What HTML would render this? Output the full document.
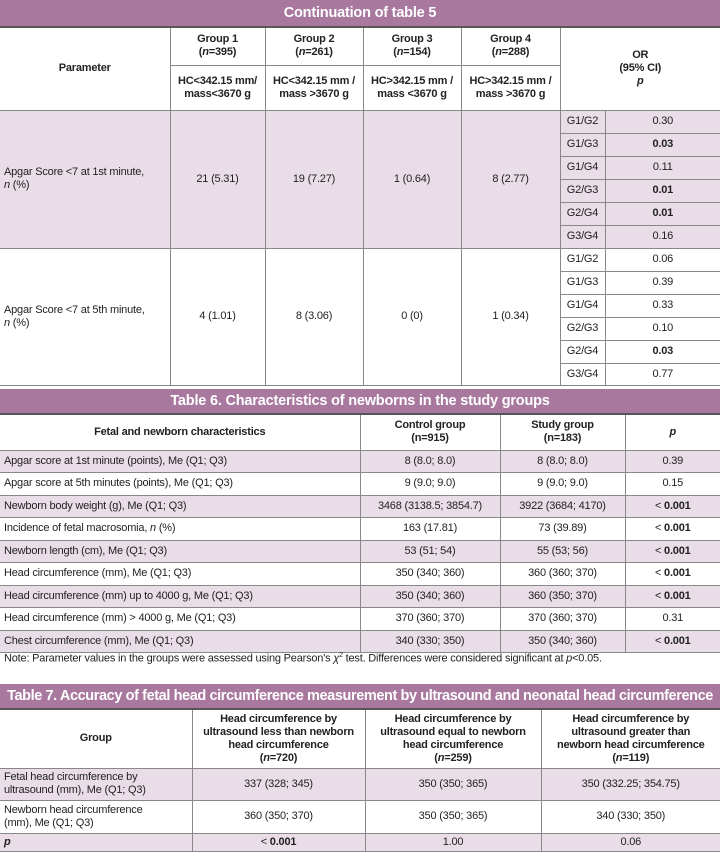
<!DOCTYPE html>
<html><head><meta charset="utf-8"><style>
body{margin:0;width:720px;height:851px;background:#fff;font-family:"Liberation Sans",sans-serif;color:#222;position:relative;overflow:hidden}
.bar{position:absolute;left:0;width:720px;background:#a8789f;color:#fff;font-weight:bold;font-size:14.5px;text-align:center;border-bottom:2px solid #555;box-sizing:border-box;letter-spacing:-0.2px}
table{position:absolute;left:0;width:720px;border-collapse:collapse;table-layout:fixed;font-size:11px;letter-spacing:-0.2px}
td{border:1px solid #888;padding:0 4px;text-align:center;vertical-align:middle;overflow:hidden;line-height:13px}
td.l{text-align:left}
tr.s td,td.s{background:#e9dde8}
.h td{font-weight:bold}
table tr:first-child td{border-top:none}
td:first-child{border-left:none} td:last-child{border-right:none}
b{font-weight:bold}
</style></head><body>

<div class="bar" style="top:0;height:28px;line-height:27px">Continuation of table 5</div>
<table style="top:28px">
<colgroup><col style="width:170px"><col style="width:95px"><col style="width:98px"><col style="width:98px"><col style="width:99px"><col style="width:45px"><col style="width:115px"></colgroup>
<tr class="h" style="height:37px"><td rowspan="2">Parameter</td><td>Group 1<br>(<i>n</i>=395)</td><td>Group 2<br>(<i>n</i>=261)</td><td>Group 3<br>(<i>n</i>=154)</td><td>Group 4<br>(<i>n</i>=288)</td><td colspan="2" rowspan="2">OR<br>(95% CI)<br><i>p</i></td></tr>
<tr class="h" style="height:45px;border-bottom:1.5px solid #444"><td>HC&lt;342.15 mm/<br>mass&lt;3670 g</td><td>HC&lt;342.15 mm /<br>mass &gt;3670 g</td><td>HC&gt;342.15 mm /<br>mass &lt;3670 g</td><td>HC&gt;342.15 mm /<br>mass &gt;3670 g</td></tr>
<tr class="s" style="height:23px"><td class="l" rowspan="6">Apgar Score &lt;7 at 1st minute,<br><i>n</i> (%)</td><td rowspan="6">21 (5.31)</td><td rowspan="6">19 (7.27)</td><td rowspan="6">1 (0.64)</td><td rowspan="6">8 (2.77)</td><td>G1/G2</td><td>0.30</td></tr>
<tr class="s" style="height:23px"><td>G1/G3</td><td><b>0.03</b></td></tr>
<tr class="s" style="height:23px"><td>G1/G4</td><td>0.11</td></tr>
<tr class="s" style="height:23px"><td>G2/G3</td><td><b>0.01</b></td></tr>
<tr class="s" style="height:23px"><td>G2/G4</td><td><b>0.01</b></td></tr>
<tr class="s" style="height:23px"><td>G3/G4</td><td>0.16</td></tr>
<tr style="height:23px"><td class="l" rowspan="6">Apgar Score &lt;7 at 5th minute,<br><i>n</i> (%)</td><td rowspan="6">4 (1.01)</td><td rowspan="6">8 (3.06)</td><td rowspan="6">0 (0)</td><td rowspan="6">1 (0.34)</td><td>G1/G2</td><td>0.06</td></tr>
<tr style="height:23px"><td>G1/G3</td><td>0.39</td></tr>
<tr style="height:23px"><td>G1/G4</td><td>0.33</td></tr>
<tr style="height:23px"><td>G2/G3</td><td>0.10</td></tr>
<tr style="height:23px"><td>G2/G4</td><td><b>0.03</b></td></tr>
<tr style="height:22px;border-bottom:1.5px solid #444"><td>G3/G4</td><td>0.77</td></tr>
</table>

<div class="bar" style="top:389px;height:26px;line-height:25px">Table 6. Characteristics of newborns in the study groups</div>
<table style="top:415px">
<colgroup><col style="width:360px"><col style="width:140px"><col style="width:125px"><col style="width:95px"></colgroup>
<tr class="h" style="height:35px;border-bottom:1.5px solid #444"><td>Fetal and newborn characteristics</td><td>Control group<br>(n=915)</td><td>Study group<br>(n=183)</td><td><i>p</i></td></tr>
<tr class="s" style="height:22.5px"><td class="l">Apgar score at 1st minute (points), Me (Q1; Q3)</td><td>8 (8.0; 8.0)</td><td>8 (8.0; 8.0)</td><td>0.39</td></tr>
<tr style="height:22.5px"><td class="l">Apgar score at 5th minutes (points), Me (Q1; Q3)</td><td>9 (9.0; 9.0)</td><td>9 (9.0; 9.0)</td><td>0.15</td></tr>
<tr class="s" style="height:22.5px"><td class="l">Newborn body weight (g), Me (Q1; Q3)</td><td>3468 (3138.5; 3854.7)</td><td>3922 (3684; 4170)</td><td>&lt; <b>0.001</b></td></tr>
<tr style="height:22.5px"><td class="l">Incidence of fetal macrosomia, <i>n</i> (%)</td><td>163 (17.81)</td><td>73 (39.89)</td><td>&lt; <b>0.001</b></td></tr>
<tr class="s" style="height:22.5px"><td class="l">Newborn length (cm), Me (Q1; Q3)</td><td>53 (51; 54)</td><td>55 (53; 56)</td><td>&lt; <b>0.001</b></td></tr>
<tr style="height:22.5px"><td class="l">Head circumference (mm), Me (Q1; Q3)</td><td>350 (340; 360)</td><td>360 (360; 370)</td><td>&lt; <b>0.001</b></td></tr>
<tr class="s" style="height:22.5px"><td class="l">Head circumference (mm) up to 4000 g, Me (Q1; Q3)</td><td>350 (340; 360)</td><td>360 (350; 370)</td><td>&lt; <b>0.001</b></td></tr>
<tr style="height:22.5px"><td class="l">Head circumference (mm) &gt; 4000 g, Me (Q1; Q3)</td><td>370 (360; 370)</td><td>370 (360; 370)</td><td>0.31</td></tr>
<tr class="s" style="height:22.5px;border-bottom:1.5px solid #444"><td class="l">Chest circumference (mm), Me (Q1; Q3)</td><td>340 (330; 350)</td><td>350 (340; 360)</td><td>&lt; <b>0.001</b></td></tr>
</table>
<div style="position:absolute;top:652px;left:4px;font-size:11px;letter-spacing:-0.2px">Note: Parameter values in the groups were assessed using Pearson's <i>χ</i><sup style="font-size:7px">2</sup> test. Differences were considered significant at <i>p</i>&lt;0.05.</div>

<div class="bar" style="top:684px;height:26px;line-height:25px;font-size:14.5px;letter-spacing:-0.4px">Table 7. Accuracy of fetal head circumference measurement by ultrasound and neonatal head circumference</div>
<table style="top:710px">
<colgroup><col style="width:192px"><col style="width:173px"><col style="width:176px"><col style="width:179px"></colgroup>
<tr class="h" style="height:58px;border-bottom:1.5px solid #444"><td>Group</td><td>Head circumference by<br>ultrasound less than newborn<br>head circumference<br>(<i>n</i>=720)</td><td>Head circumference by<br>ultrasound equal to newborn<br>head circumference<br>(<i>n</i>=259)</td><td>Head circumference by<br>ultrasound greater than<br>newborn head circumference<br>(<i>n</i>=119)</td></tr>
<tr class="s" style="height:32px"><td class="l">Fetal head circumference by<br>ultrasound (mm), Me (Q1; Q3)</td><td>337 (328; 345)</td><td>350 (350; 365)</td><td>350 (332.25; 354.75)</td></tr>
<tr style="height:33px"><td class="l">Newborn head circumference<br>(mm), Me (Q1; Q3)</td><td>360 (350; 370)</td><td>350 (350; 365)</td><td>340 (330; 350)</td></tr>
<tr class="s" style="height:18px;border-bottom:1.5px solid #444"><td class="l"><b><i>p</i></b></td><td>&lt; <b>0.001</b></td><td>1.00</td><td>0.06</td></tr>
</table>
</body></html>
